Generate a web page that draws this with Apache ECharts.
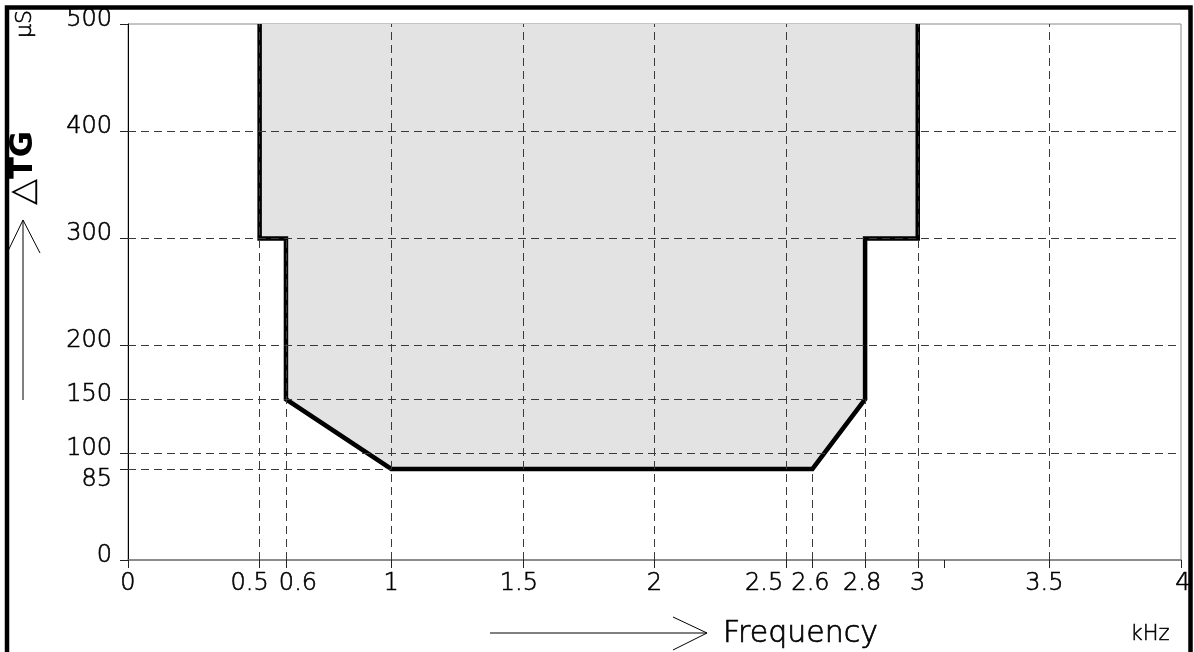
<!DOCTYPE html>
<html>
<head>
<meta charset="utf-8">
<script src="https://cdn.jsdelivr.net/npm/echarts@6/dist/echarts.min.js"></script>
<style>
    html, body { margin: 0; padding: 0; background: #fff; }
    #chart { width: 1194px; height: 652px; }
</style>
</head>
<body>
<div id="chart"></div>
<script>
// axis ticks (kHz / µs); 3.1 has a tick but no label
const xTicks = [0, 0.5, 0.6, 1, 1.5, 2, 2.5, 2.6, 2.8, 3, 3.1, 3.5, 4];
const xUnlabelled = [3.1];
const yTicks = [0, 85, 100, 150, 200, 300, 400, 500];

// limit curve of the shaded region
const limitX = [0.5, 0.5, 0.6, 0.6, 1, 2.6, 2.8, 2.8, 3, 3];
const limitY = [500, 300, 300, 150, 85, 85, 150, 300, 300, 500];

// dashed guides: vertical ones run from 0 up to guideXTop, horizontal ones from 0 to guideYEnd
const guideX = [0.5, 0.6, 1, 1.5, 2, 2.5, 2.6, 2.8, 3, 3.5];
const guideXTop = [500, 300, 500, 500, 500, 500, 85, 150, 500, 500];
const guideY = [85, 100, 150, 200, 300, 400];
const guideYEnd = [1, 4, 2.8, 4, 4, 4];

const FONT = "DejaVu Sans";
// crowded x labels are nudged sideways (px) so they don't collide
const xLabelNudge = { 0.5: -10, 0.6: 12, 1.5: -4, 2.5: -22, 2.6: -2, 2.8: -3, 3.5: -5, 4: 2 };

const labelBase = {
    fontFamily: FONT,
    fontWeight: 200,
    fontSize: 24,
    color: "#000",
    textBorderColor: "#000",
    textBorderWidth: 0.6,
};

const xRich = { n: Object.assign({}, labelBase) };
Object.keys(xLabelNudge).forEach((k, i) => {
    const d = xLabelNudge[k];
    xRich["s" + i] = Object.assign({}, labelBase, {
        padding: d < 0 ? [0, -2 * d, 0, 0] : [0, 0, 0, 2 * d],
    });
});
function xLabel(v) {
    if (xUnlabelled.includes(v)) return "";
    const keys = Object.keys(xLabelNudge);
    const i = keys.findIndex((k) => Number(k) === v);
    return "{" + (i >= 0 ? "s" + i : "n") + "|" + v + "}";
}

const chart = echarts.init(document.getElementById("chart"), null, { renderer: "canvas" });

const guideLines = [];
guideX.forEach((x, i) => {
    guideLines.push([{ coord: [x, 0] }, { coord: [x, guideXTop[i]] }]);
});
guideY.forEach((y, i) => {
    guideLines.push([{ coord: [0, y] }, { coord: [guideYEnd[i], y] }]);
});

const option = {
    animation: false,
    grid: {
        left: 128,
        right: 13,
        top: 24,
        bottom: 92,
        show: true,
        borderColor: "#8a8a8a",
        borderWidth: 1,
    },
    xAxis: {
        type: "value",
        min: 0,
        max: 4,
        axisLine: { show: true, onZero: false, lineStyle: { color: "#7a7a7a", width: 1.5 } },
        axisTick: { show: true, length: 8, customValues: xTicks, lineStyle: { color: "#222", width: 1 } },
        axisLabel: {
            customValues: xTicks,
            margin: 12,
            color: "#000",
            fontFamily: FONT,
            fontSize: 24,
            formatter: xLabel,
            rich: xRich,
        },
        splitLine: { show: false },
    },
    yAxis: {
        type: "value",
        min: 0,
        max: 500,
        axisLine: { show: true, lineStyle: { color: "#000", width: 1 } },
        axisTick: { show: true, length: 8, customValues: yTicks, lineStyle: { color: "#222", width: 1 } },
        axisLabel: {
            customValues: yTicks,
            margin: 16,
            color: "#000",
            fontFamily: FONT,
            fontSize: 24,
            formatter: (v) => (v === 85 ? "{dn|" + v + "}" : "{up|" + v + "}"),
            rich: {
                up: Object.assign({}, labelBase, { padding: [0, 0, 9, 0] }),
                dn: Object.assign({}, labelBase, { padding: [21, 0, 0, 0] }),
            },
        },
        splitLine: { show: false },
    },
    series: [
        {
            name: "limit",
            type: "line",
            z: 2,
            data: limitX.map((x, i) => [x, limitY[i]]),
            showSymbol: false,
            silent: true,
            lineStyle: { color: "#000", width: 4.5, join: "miter", cap: "butt" },
            areaStyle: { color: "#e3e3e3", opacity: 1, origin: "end" },
        },
        {
            name: "guides",
            type: "line",
            z: 3,
            data: [],
            silent: true,
            markLine: {
                silent: true,
                symbol: "none",
                label: { show: false },
                lineStyle: { color: "#3a3a3a", width: 1, type: [8, 5] },
                data: guideLines,
            },
        },
    ],
    graphic: [
        // outer frame
        {
            type: "rect",
            shape: { x: 7, y: 7.5, width: 1183.5, height: 700 },
            style: { fill: null, stroke: "#000", lineWidth: 4.5 },
            silent: true,
        },
        // y name arrow
        {
            type: "line",
            shape: { x1: 23, y1: 400, x2: 23, y2: 220 },
            style: { stroke: "#000", lineWidth: 1 },
        },
        {
            type: "polyline",
            shape: { points: [[8, 251], [23, 220], [40, 253]] },
            style: { stroke: "#000", lineWidth: 1, fill: null },
        },
        {
            type: "text",
            x: 24,
            y: 168,
            rotation: Math.PI / 2,
            style: {
                text: "{t|\u25B3}{b|TG}",
                align: "center",
                verticalAlign: "middle",
                rich: {
                    t: { font: "200 34px " + FONT, fill: "#000", textStroke: "#000", textStrokeWidth: 0.6 },
                    b: { font: "bold 32px " + FONT, fill: "#000" },
                },
            },
        },
        {
            type: "text",
            x: 25,
            y: 24,
            rotation: Math.PI / 2,
            style: {
                text: "\u00B5S",
                font: "200 22px " + FONT,
                fill: "#000",
                stroke: "#000",
                lineWidth: 0.6,
                align: "center",
                verticalAlign: "middle",
            },
        },
        // x name arrow
        {
            type: "line",
            shape: { x1: 490, y1: 633, x2: 707, y2: 633 },
            style: { stroke: "#000", lineWidth: 1 },
        },
        {
            type: "polyline",
            shape: { points: [[673, 617], [707, 633], [673, 650]] },
            style: { stroke: "#000", lineWidth: 1, fill: null },
        },
        {
            type: "text",
            x: 723,
            y: 634,
            style: {
                text: "Frequency",
                font: "200 30px " + FONT,
                fill: "#000",
                stroke: "#000",
                lineWidth: 0.7,
                align: "left",
                verticalAlign: "middle",
            },
        },
        {
            type: "text",
            x: 1150,
            y: 635,
            style: {
                text: "kHz",
                font: "200 21px " + FONT,
                fill: "#000",
                stroke: "#000",
                lineWidth: 0.5,
                align: "center",
                verticalAlign: "middle",
            },
        },
    ],
};

chart.setOption(option);
</script>
</body>
</html>
